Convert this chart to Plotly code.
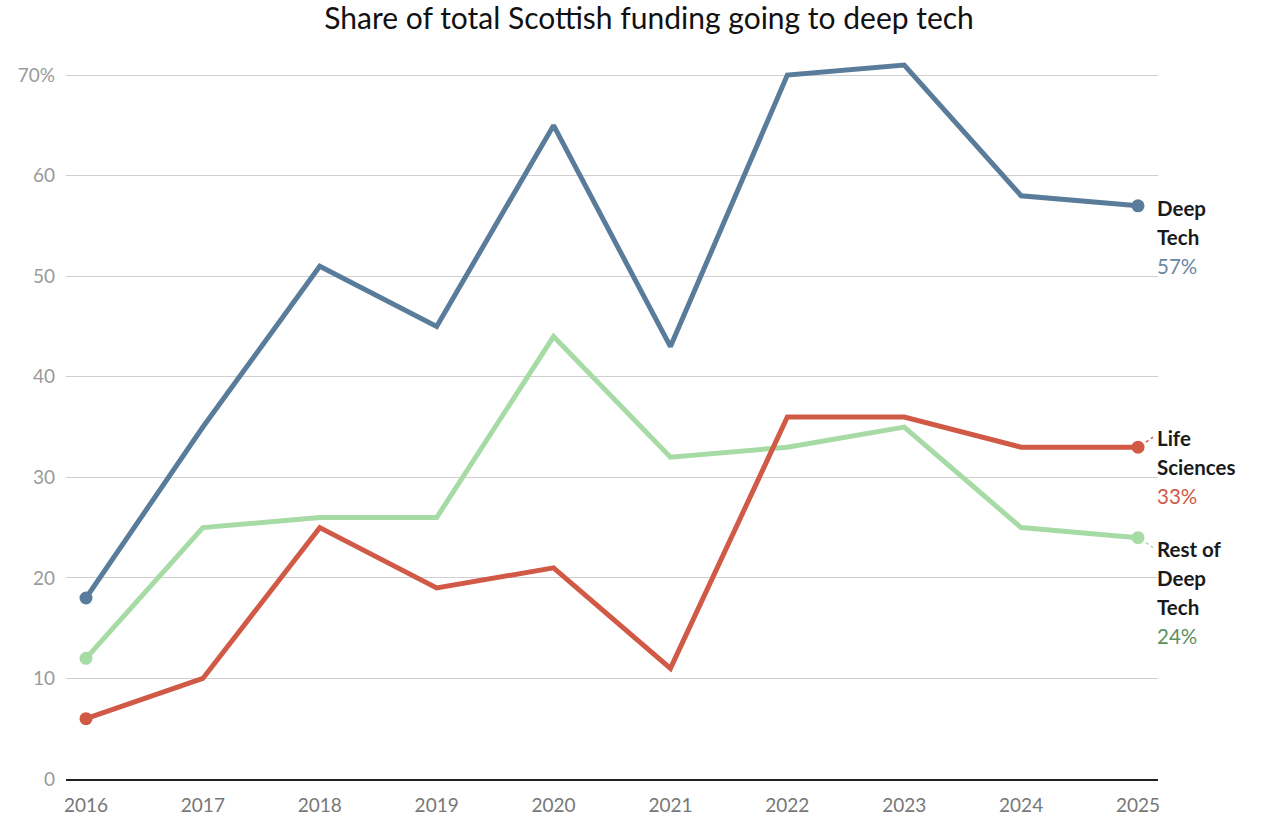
import plotly.graph_objects as go

years = [2016, 2017, 2018, 2019, 2020, 2021, 2022, 2023, 2024, 2025]
deep_tech = [18, 35, 51, 45, 65, 43, 70, 71, 58, 57]
life_sciences = [6, 10, 25, 19, 21, 11, 36, 36, 33, 33]
rest_of_deep_tech = [12, 25, 26, 26, 44, 32, 33, 35, 25, 24]

y_ticks = [0, 10, 20, 30, 40, 50, 60, 70]
y_tick_text = ["0", "10", "20", "30", "40", "50", "60", "70%"]

FONT = "Lato"
# (name, values, line colour, value-label colour, label lines, label offset below the end point in px)
series = [
    ("Deep Tech", deep_tech, "#5a7c9b", "#6a88a5", ["Deep", "Tech"], 2),
    ("Rest of Deep Tech", rest_of_deep_tech, "#a6dba6", "#5e9160", ["Rest of", "Deep", "Tech"], 11),
    ("Life Sciences", life_sciences, "#d15a47", "#d15a47", ["Life", "Sciences"], -9),
]

fig = go.Figure()
for name, vals, color, _, _, _ in series:
    fig.add_trace(go.Scatter(
        x=years, y=vals, mode="lines", name=name,
        line=dict(color=color, width=5), showlegend=False,
        hoverinfo="skip", cliponaxis=False,
    ))
    fig.add_trace(go.Scatter(
        x=[years[0], years[-1]], y=[vals[0], vals[-1]], mode="markers",
        marker=dict(color=color, size=13), showlegend=False,
        hoverinfo="skip", cliponaxis=False,
    ))

annotations = []
shapes = []
for name, vals, color, label_color, lines, offset in series:
    last = vals[-1]
    for i, line in enumerate(lines + [f"{last}%"]):
        is_value = i == len(lines)
        annotations.append(dict(
            xref="paper", yref="y", x=1.0, y=last, xanchor="left", yanchor="middle",
            xshift=-3, yshift=-offset - 29 * i,
            text=line if is_value else f"<b>{line}</b>",
            showarrow=False,
            font=dict(family=FONT, size=20.5, color=label_color if is_value else "#1a1a1a"),
        ))
    # short dotted leader from the end point towards a nudged label
    if abs(offset) > 5:
        direction = -1 if offset > 0 else 1
        shapes.append(dict(
            type="line", xref="x", yref="y", xsizemode="pixel", ysizemode="pixel",
            xanchor=years[-1], yanchor=last,
            x0=8, x1=15, y0=direction * 5, y1=direction * 10,
            line=dict(color=color, width=1.5, dash="dot"),
        ))

fig.update_layout(
    width=1264, height=815,
    margin=dict(l=66, r=106, t=55, b=36),
    paper_bgcolor="white", plot_bgcolor="white",
    title=dict(
        text="Share of total Scottish funding going to deep tech",
        x=0.5135, xanchor="center", y=0.977, yanchor="middle",
        font=dict(family=FONT, size=30, color="#111111"),
    ),
    xaxis=dict(
        range=[2016 - 0.171, 2025 + 0.171], tickvals=years, showgrid=False,
        showline=True, linecolor="#222222", linewidth=2, zeroline=False,
        ticks="", ticklabelstandoff=8, automargin=False,
        tickfont=dict(family=FONT, size=19, color="#777777"),
    ),
    yaxis=dict(
        range=[0, 72], tickvals=y_ticks, ticktext=y_tick_text,
        showgrid=True, gridcolor="#cfcfcf", gridwidth=1,
        zeroline=False, showline=False, ticks="", ticklabelstandoff=10,
        automargin=False,
        tickfont=dict(family=FONT, size=19, color="#9a9a9a"),
    ),
    annotations=annotations,
    shapes=shapes,
)

fig.write_html("out.html")
